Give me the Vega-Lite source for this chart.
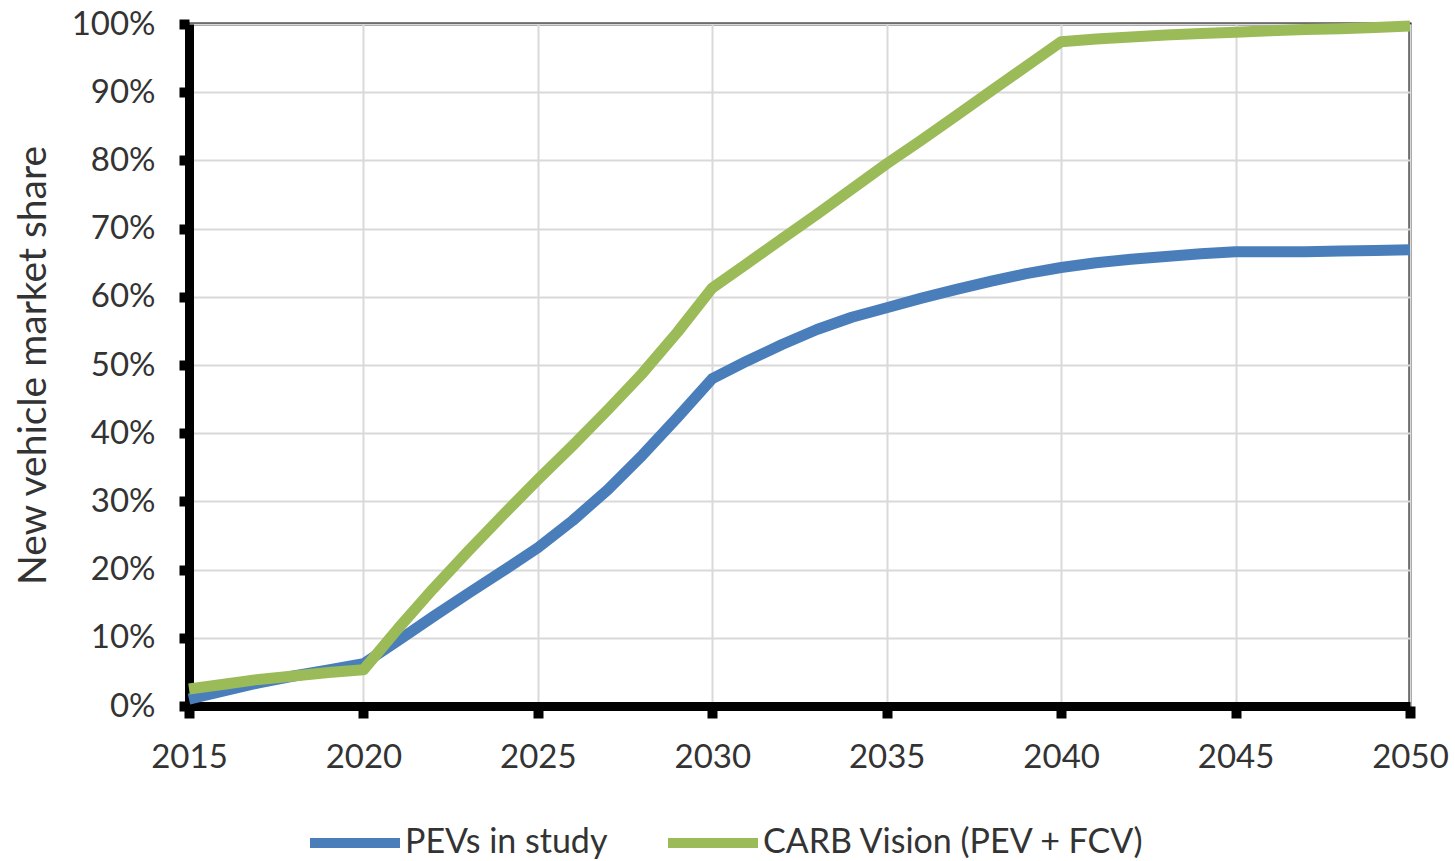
{
  "$schema": "https://vega.github.io/schema/vega-lite/v6.json",
  "width": 1221,
  "height": 682,
  "autosize": "none",
  "padding": {"left": 189, "top": 24, "right": 45, "bottom": 155},
  "background": "white",
  "config": {
    "view": {"stroke": "black", "strokeWidth": 3},
    "font": "Lato"
  },
  "data": {
    "values": [
      {"year": 2015, "series": "PEVs in study", "share": 1.0},
      {"year": 2016, "series": "PEVs in study", "share": 2.2},
      {"year": 2017, "series": "PEVs in study", "share": 3.4},
      {"year": 2018, "series": "PEVs in study", "share": 4.4},
      {"year": 2019, "series": "PEVs in study", "share": 5.3},
      {"year": 2020, "series": "PEVs in study", "share": 6.2},
      {"year": 2021, "series": "PEVs in study", "share": 9.6},
      {"year": 2022, "series": "PEVs in study", "share": 13.1},
      {"year": 2023, "series": "PEVs in study", "share": 16.5},
      {"year": 2024, "series": "PEVs in study", "share": 19.8},
      {"year": 2025, "series": "PEVs in study", "share": 23.2},
      {"year": 2026, "series": "PEVs in study", "share": 27.2},
      {"year": 2027, "series": "PEVs in study", "share": 31.7},
      {"year": 2028, "series": "PEVs in study", "share": 36.8},
      {"year": 2029, "series": "PEVs in study", "share": 42.3},
      {"year": 2030, "series": "PEVs in study", "share": 48.0},
      {"year": 2031, "series": "PEVs in study", "share": 50.6},
      {"year": 2032, "series": "PEVs in study", "share": 53.0},
      {"year": 2033, "series": "PEVs in study", "share": 55.2},
      {"year": 2034, "series": "PEVs in study", "share": 57.0},
      {"year": 2035, "series": "PEVs in study", "share": 58.4},
      {"year": 2036, "series": "PEVs in study", "share": 59.8},
      {"year": 2037, "series": "PEVs in study", "share": 61.1},
      {"year": 2038, "series": "PEVs in study", "share": 62.3},
      {"year": 2039, "series": "PEVs in study", "share": 63.4},
      {"year": 2040, "series": "PEVs in study", "share": 64.3},
      {"year": 2041, "series": "PEVs in study", "share": 65.0},
      {"year": 2042, "series": "PEVs in study", "share": 65.5},
      {"year": 2043, "series": "PEVs in study", "share": 65.9},
      {"year": 2044, "series": "PEVs in study", "share": 66.3},
      {"year": 2045, "series": "PEVs in study", "share": 66.6},
      {"year": 2046, "series": "PEVs in study", "share": 66.6},
      {"year": 2047, "series": "PEVs in study", "share": 66.6},
      {"year": 2048, "series": "PEVs in study", "share": 66.7},
      {"year": 2049, "series": "PEVs in study", "share": 66.8},
      {"year": 2050, "series": "PEVs in study", "share": 66.9},
      {"year": 2015, "series": "CARB Vision (PEV + FCV)", "share": 2.5},
      {"year": 2016, "series": "CARB Vision (PEV + FCV)", "share": 3.2},
      {"year": 2017, "series": "CARB Vision (PEV + FCV)", "share": 3.9},
      {"year": 2018, "series": "CARB Vision (PEV + FCV)", "share": 4.4},
      {"year": 2019, "series": "CARB Vision (PEV + FCV)", "share": 4.9},
      {"year": 2020, "series": "CARB Vision (PEV + FCV)", "share": 5.3},
      {"year": 2021, "series": "CARB Vision (PEV + FCV)", "share": 11.4},
      {"year": 2022, "series": "CARB Vision (PEV + FCV)", "share": 17.2},
      {"year": 2023, "series": "CARB Vision (PEV + FCV)", "share": 22.7},
      {"year": 2024, "series": "CARB Vision (PEV + FCV)", "share": 28.0},
      {"year": 2025, "series": "CARB Vision (PEV + FCV)", "share": 33.2},
      {"year": 2026, "series": "CARB Vision (PEV + FCV)", "share": 38.2},
      {"year": 2027, "series": "CARB Vision (PEV + FCV)", "share": 43.4},
      {"year": 2028, "series": "CARB Vision (PEV + FCV)", "share": 48.8},
      {"year": 2029, "series": "CARB Vision (PEV + FCV)", "share": 54.8},
      {"year": 2030, "series": "CARB Vision (PEV + FCV)", "share": 61.3},
      {"year": 2031, "series": "CARB Vision (PEV + FCV)", "share": 64.9},
      {"year": 2032, "series": "CARB Vision (PEV + FCV)", "share": 68.5},
      {"year": 2033, "series": "CARB Vision (PEV + FCV)", "share": 72.1},
      {"year": 2034, "series": "CARB Vision (PEV + FCV)", "share": 75.8},
      {"year": 2035, "series": "CARB Vision (PEV + FCV)", "share": 79.5},
      {"year": 2036, "series": "CARB Vision (PEV + FCV)", "share": 83.0},
      {"year": 2037, "series": "CARB Vision (PEV + FCV)", "share": 86.6},
      {"year": 2038, "series": "CARB Vision (PEV + FCV)", "share": 90.2},
      {"year": 2039, "series": "CARB Vision (PEV + FCV)", "share": 93.8},
      {"year": 2040, "series": "CARB Vision (PEV + FCV)", "share": 97.4},
      {"year": 2041, "series": "CARB Vision (PEV + FCV)", "share": 97.8},
      {"year": 2042, "series": "CARB Vision (PEV + FCV)", "share": 98.1},
      {"year": 2043, "series": "CARB Vision (PEV + FCV)", "share": 98.4},
      {"year": 2044, "series": "CARB Vision (PEV + FCV)", "share": 98.6},
      {"year": 2045, "series": "CARB Vision (PEV + FCV)", "share": 98.8},
      {"year": 2046, "series": "CARB Vision (PEV + FCV)", "share": 99.0},
      {"year": 2047, "series": "CARB Vision (PEV + FCV)", "share": 99.2},
      {"year": 2048, "series": "CARB Vision (PEV + FCV)", "share": 99.3},
      {"year": 2049, "series": "CARB Vision (PEV + FCV)", "share": 99.5},
      {"year": 2050, "series": "CARB Vision (PEV + FCV)", "share": 99.7}
    ]
  },
  "mark": {"type": "line", "strokeWidth": 11, "strokeCap": "butt", "strokeJoin": "round", "clip": false},
  "encoding": {
    "x": {
      "field": "year",
      "type": "quantitative",
      "scale": {"domain": [2015, 2050], "nice": false, "zero": false},
      "axis": {
        "title": null,
        "values": [2015, 2020, 2025, 2030, 2035, 2040, 2045, 2050],
        "format": "d",
        "labelFontSize": 33,
        "labelColor": "#333333",
        "labelPadding": 23,
        "labelFlush": false,
        "domainColor": "black",
        "domainWidth": 9,
        "tickColor": "black",
        "tickSize": 12,
        "tickWidth": 10,
        "grid": true,
        "gridColor": "#d9d9d9",
        "gridWidth": 2
      }
    },
    "y": {
      "field": "share",
      "type": "quantitative",
      "scale": {"domain": [0, 100], "nice": false},
      "axis": {
        "title": "New vehicle market share",
        "titleFontSize": 39,
        "titleFontWeight": "normal",
        "titleColor": "#333333",
        "titlePadding": 18,
        "values": [0, 10, 20, 30, 40, 50, 60, 70, 80, 90, 100],
        "labelExpr": "datum.value + '%'",
        "labelFontSize": 33,
        "labelColor": "#333333",
        "labelPadding": 24,
        "labelFlush": false,
        "domainColor": "black",
        "domainWidth": 9,
        "tickColor": "black",
        "tickSize": 10,
        "tickWidth": 10,
        "grid": true,
        "gridColor": "#d9d9d9",
        "gridWidth": 2
      }
    },
    "color": {
      "field": "series",
      "type": "nominal",
      "sort": ["PEVs in study", "CARB Vision (PEV + FCV)"],
      "scale": {"domain": ["PEVs in study", "CARB Vision (PEV + FCV)"], "range": ["#4a7ebb", "#9bbb59"]},
      "legend": {
        "title": null,
        "orient": "none",
        "direction": "horizontal",
        "legendX": 116,
        "legendY": 769,
        "symbolType": "stroke",
        "symbolSize": 8100,
        "symbolStrokeWidth": 10,
        "labelFontSize": 34,
        "labelColor": "#333333",
        "labelOffset": 0,
        "columnPadding": 40,
        "labelLimit": 500
      }
    }
  }
}
